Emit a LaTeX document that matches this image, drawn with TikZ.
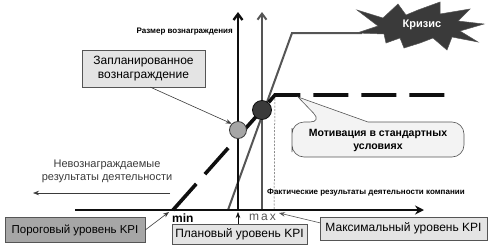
\documentclass[tikz,border=0pt]{standalone}
\usepackage{fontspec}
\setmainfont{Liberation Sans}
\usetikzlibrary{arrows.meta, positioning}
\definecolor{ink}{RGB}{15,15,15}
\definecolor{steel}{RGB}{85,85,85}
\definecolor{paleg}{RGB}{228,228,228}
\definecolor{midg}{RGB}{166,166,166}
\definecolor{darkg}{RGB}{58,58,58}
\definecolor{fog}{RGB}{243,243,243}

\begin{document}
\begin{tikzpicture}[x=1pt, y=-1pt, every node/.style={font=\fontsize{12}{14}\selectfont},
      box/.style={draw=steel, fill=paleg, inner sep=0pt, align=center},
      axis/.style={line width=2.4pt, draw=ink},
      ar/.style={-{Stealth[length=6pt, width=4.5pt]}, draw=steel, line width=0.6pt},
      tag/.style={font=\fontsize{8}{9}\selectfont\bfseries, inner sep=0pt}]
    \useasboundingbox (0,0) rectangle (491,247);
    % key points
    \coordinate (origin) at (75,210);
    \coordinate (xend) at (424,210);
    \coordinate (kmin) at (173,210);
    \coordinate (kplan) at (238,210);
    \coordinate (kmax) at (274,210);
    \coordinate (yend) at (238,12);
    \coordinate (y2foot) at (262,210);
    \coordinate (y2end) at (262,12);
    \coordinate (steepfoot) at (228,210);
    \coordinate (steeptop) at (292,33);
    \coordinate (bend) at (275,95);
    \coordinate (dashend) at (450,95);
    % curves and axes
    \draw[line width=0.5pt, dash pattern=on 2pt off 1.5pt, draw=steel] (bend) -- (kmax);
    \draw[line width=2pt, draw=steel, -{Straight Barb[length=6pt, width=9pt]}] (y2foot) -- (y2end);
    \draw[line width=2pt, draw=steel] (steepfoot) -- (steeptop) -- (362,33);
    \draw[line width=3.6pt, draw=ink, dash pattern=on 35pt off 13pt] (kmin) -- (262,110) -- (bend) -- (dashend);
    \draw[axis, -{Straight Barb[length=6pt, width=9pt]}] (kplan) -- (yend);
    \draw[axis, -{Stealth[length=9pt, width=9pt]}] (origin) -- (xend);
    \node[circle, draw=darkg, fill=midg, line width=0.8pt, minimum size=17pt, inner sep=0pt] (lowc) at (238,130) {};
    \node[circle, draw=ink, fill=darkg, line width=0.8pt, minimum size=19pt, inner sep=0pt] (highc) at (262,110) {};
    % labels
    \node[tag, anchor=east] (ylab) at (233,32) {Размер вознаграждения};
    \node[tag, anchor=west] (xlab) at (267,193) {Фактические результаты деятельности компании};
    \node[box, minimum width=123pt, minimum height=37pt] (planned) at (143.5,68.5) {Запланированное\\вознаграждение};
    \draw[ar, draw=darkg] ([xshift=7pt]planned.south) -- (lowc.north west);
    \node[align=center, text=darkg, font=\fontsize{11}{13}\selectfont] (unpaid) at (107,171) {Невознаграждаемые\\результаты деятельности};
    \coordinate (leftend) at (33,193);
    \draw[ar, draw=darkg] (170,193) -- (leftend);
    \node[font=\fontsize{12}{14}\selectfont\bfseries, anchor=west, inner sep=0pt] (minlab) at (172,218) {min};
    \node[font=\fontsize{12}{14}\selectfont, text=steel, anchor=west, inner sep=0pt] (maxlab) at (249,217) {m\,a\,x};
    \node[box, fill=midg, minimum width=140pt, minimum height=25pt, font=\fontsize{11.5}{13}\selectfont] (thresh) at (75,230) {Пороговый уровень KPI};
    \node[box, minimum width=135pt, minimum height=20pt] (planbox) at (239.5,234) {Плановый уровень KPI};
    \node[box, minimum width=167pt, minimum height=23pt] (maxbox) at (403.5,228.5) {Максимальный уровень KPI};
    \draw[ar, draw=darkg] (thresh.east) -- ([xshift=-4pt, yshift=-2pt]kmin);
    \draw[ar, draw=ink] (planbox.north -| kplan) -- ([yshift=-2pt]kplan);
    \draw[ar] ([yshift=-6pt]maxbox.north west) -- ([xshift=5pt, yshift=-3pt]kmax);
    % callout
    \draw[draw=steel, fill=fog, line width=0.6pt] (292,140) [rounded corners=12pt] -- (292,122) -- (322,122)
      [sharp corners] -- (298,97) -- (368,122) [rounded corners=12pt] -- (464,122) -- (464,157) -- (292,157) -- cycle;
    \node[align=center, font=\fontsize{10.5}{13}\selectfont\bfseries] (motiv) at (378,140) {Мотивация в стандартных\\условиях};
    % crisis burst
    \filldraw[fill=darkg, draw=steel, line width=0.5pt] (357,10) -- (383,18) -- (398,4) -- (406,15) -- (418,10)
      -- (440,2) -- (440,14) -- (470,9) -- (458,21) -- (484,24) -- (460,31) -- (478,42) -- (452,37)
      -- (447,50) -- (433,38) -- (420,43) -- (404,48) -- (400,38) -- (386,43) -- (384,34) -- (357,33)
      -- (378,26) -- cycle;
    \node[text=white, font=\fontsize{11}{13}\selectfont\bfseries] (crisis) at (422,25) {Кризис};
  \end{tikzpicture}
\end{document}
